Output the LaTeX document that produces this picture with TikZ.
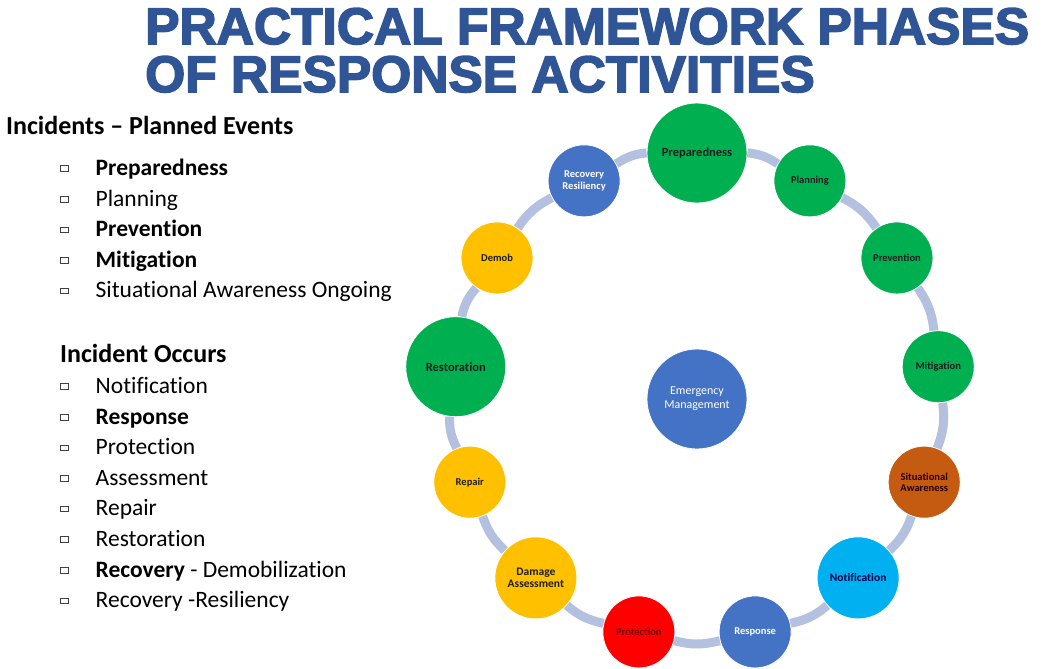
\documentclass[tikz,border=0pt]{standalone}
\usepackage{fontspec}
\setmainfont{Carlito}[Ligatures=NoCommon]
\newfontfamily\titlefont{Liberation Sans}[UprightFont=*-Bold, UprightFeatures={FakeBold=3}]
\definecolor{titleblue}{HTML}{2F5597}
\definecolor{ringc}{HTML}{B4C0E0}
\definecolor{cgreen}{HTML}{00B050}
\definecolor{cblue}{HTML}{4472C4}
\definecolor{cgold}{HTML}{FFC000}
\definecolor{cred}{HTML}{FF0000}
\definecolor{ccyan}{HTML}{00B0F0}
\definecolor{cbrown}{HTML}{C55A11}
\definecolor{tdark}{HTML}{1E1E1E}
\begin{document}
\begin{tikzpicture}[x=1pt,y=-1pt,
  phase/.style={circle, draw=white, line width=0.8pt, minimum size=72pt, inner sep=0pt,
    font=\bfseries\fontsize{10.5}{11.5}\selectfont, align=center, text=tdark},
  bigph/.style={minimum size=100pt, font=\bfseries\fontsize{12.5}{13.5}\selectfont},
  midph/.style={minimum size=82pt, font=\bfseries\fontsize{11.5}{12.5}\selectfont},
  ring/.style={draw=ringc, line width=9pt},
  ttl/.style={anchor=base west, inner sep=0pt, font=\titlefont\fontsize{51.5}{51.5}\selectfont},
  head/.style={anchor=base west, inner sep=0pt, font=\bfseries\fontsize{26}{30}\selectfont},
  item/.style={anchor=base west, inner sep=0pt, font=\fontsize{23.5}{28}\selectfont},
  bulletbox/.style={draw=black!75, line width=1pt, minimum width=7.5pt, minimum height=5.5pt, inner sep=0pt}
]
\useasboundingbox (0,0) rectangle (1047,669);

% title
\node[ttl, text=titleblue] (t1) at (145,44) {PRACTICAL FRAMEWORK PHASES};
\node[ttl, text=titleblue] (t2) at (145,92) {OF RESPONSE ACTIVITIES};

% left list
\node[head] (h1) at (6,134) {Incidents – Planned Events};
\node[head] (h2) at (60,362) {Incident Occurs};
\foreach \nm/\yy/\tx in {
  a1/175/\textbf{Preparedness},
  a2/206/Planning,
  a3/236.5/\textbf{Prevention},
  a4/267/\textbf{Mitigation},
  a5/297.5/Situational Awareness Ongoing,
  b1/393/Notification,
  b2/424/\textbf{Response},
  b3/454.5/Protection,
  b4/485/Assessment,
  b5/515.5/Repair,
  b6/546/Restoration,
  b7/577/\textbf{Recovery} - Demobilization,
  b8/607.5/Recovery -Resiliency}{
  \node[bulletbox] (sq\nm) at (64.5,\yy-6.5) {};
  \node[item] (it\nm) at (95.5,\yy) {\tx};
}

% ring positions
\foreach \n/\k in {prep/0,plan/1,prev/2,miti/3,situ/4,noti/5,resp/6,prot/7,dama/8,repa/9,rest/10,demo/11,reco/12}{
  \coordinate (p\n) at ({697+243*cos(90-\k*360/13)},{396-243*sin(90-\k*360/13)});
}

\node[phase, bigph, fill=cgreen] (prep) at (pprep) {Preparedness};
\node[phase, fill=cgreen] (plan) at (pplan) {Planning};
\node[phase, fill=cgreen] (prev) at (pprev) {Prevention};
\node[phase, fill=cgreen] (miti) at (pmiti) {Mitigation};
\node[phase, fill=cbrown, text=black!85!red] (situ) at (psitu) {Situational\\Awareness};
\node[phase, midph, fill=ccyan, text=black!70!blue] (noti) at (pnoti) {Notification};
\node[phase, fill=cblue, text=white] (resp) at (presp) {Response};
\node[phase, fill=cred, text=black!55!red] (prot) at (pprot) {Protection};
\node[phase, midph, fill=cgold] (dama) at (pdama) {Damage\\Assessment};
\node[phase, fill=cgold] (repa) at (prepa) {Repair};
\node[phase, bigph, fill=cgreen] (rest) at (prest) {Restoration};
\node[phase, fill=cgold] (demo) at (pdemo) {Demob};
\node[phase, fill=cblue, text=white] (reco) at (preco) {Recovery\\Resiliency};

\node[phase, minimum size=100pt, fill=cblue, text=white,
  font=\fontsize{12}{14}\selectfont] (em) at (697,399) {Emergency\\Management};

% connectors
\foreach \a/\b in {prep/plan,plan/prev,prev/miti,miti/situ,situ/noti,noti/resp,resp/prot,prot/dama,dama/repa,repa/rest,rest/demo,demo/reco,reco/prep}{
  \draw[ring] (\a) to[bend left=14] (\b);
}
\end{tikzpicture}
\end{document}
